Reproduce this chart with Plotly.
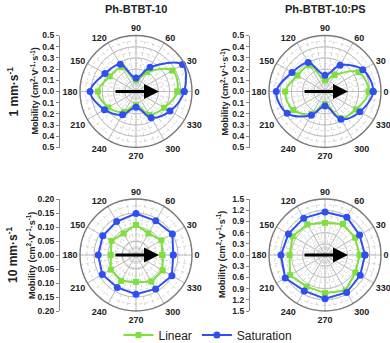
import plotly.graph_objects as go

# angle of the measurement (deg)
angles = [0, 30, 60, 90, 120, 150, 180, 210, 240, 270, 300, 330]

# mobility values (cm2 V-1 s-1)
lin_1mm_pure = [0.37, 0.375, 0.20, 0.10, 0.25, 0.27, 0.34, 0.285, 0.21, 0.12, 0.24, 0.29]
sat_1mm_pure = [0.43, 0.48, 0.25, 0.12, 0.28, 0.32, 0.41, 0.325, 0.24, 0.14, 0.27, 0.35]
lin_1mm_ps = [0.39, 0.345, 0.17, 0.10, 0.27, 0.285, 0.355, 0.33, 0.23, 0.11, 0.275, 0.32]
sat_1mm_ps = [0.43, 0.39, 0.27, 0.145, 0.30, 0.34, 0.435, 0.39, 0.245, 0.13, 0.285, 0.36]
lin_10mm_pure = [0.094, 0.105, 0.089, 0.108, 0.089, 0.101, 0.09, 0.104, 0.107, 0.096, 0.11, 0.11]
sat_10mm_pure = [0.133, 0.15, 0.141, 0.148, 0.138, 0.137, 0.135, 0.139, 0.134, 0.14, 0.14, 0.148]
lin_10mm_ps = [0.93, 0.93, 0.96, 0.86, 0.95, 1.0, 0.95, 1.08, 0.98, 1.02, 1.1, 0.94]
sat_10mm_ps = [1.07, 1.07, 1.17, 1.15, 1.14, 1.13, 1.18, 1.23, 1.11, 1.17, 1.16, 1.09]

col_titles = ["Ph-BTBT-10", "Ph-BTBT-10:PS"]
row_titles = ["1 mm·s<sup>-1</sup>", "10 mm·s<sup>-1</sup>"]
axis_title = "Mobility (cm<sup>2</sup>·V<sup>-1</sup>·s<sup>-1</sup>)"
axis_max = [0.5, 0.5, 0.2, 1.5]
axis_step = [0.1, 0.1, 0.05, 0.3]
axis_fmt = ["%.1f", "%.1f", "%.2f", "%.1f"]

W, H = 390, 343
R = 56
col_cx = [136, 325]
row_cy = [91.5, 255]
axis_x = [61, 251]
title_x = [[34, 224], [31, 221]]

GREEN = "#7ee03c"
BLUE = "#2f4ff2"
FONT = "Liberation Sans"
TXT = "#222222"

panels = [
    (lin_1mm_pure, sat_1mm_pure),
    (lin_1mm_ps, sat_1mm_ps),
    (lin_10mm_pure, sat_10mm_pure),
    (lin_10mm_ps, sat_10mm_ps),
]

fig = go.Figure()
layout = {}
annotations = []

for i, (lin, sat) in enumerate(panels):
    row, col = divmod(i, 2)
    cx, cy = col_cx[col], row_cy[row]
    xd = [(cx - R) / W, (cx + R) / W]
    yd = [1 - (cy + R) / H, 1 - (cy - R) / H]
    top = axis_max[i]
    step = axis_step[i]
    shape = "spline" if row == 0 else "linear"

    minor_id = "polar%d" % (i + 1)
    main_id = "polar%d" % (i + 5)

    # minor dashed grid layer
    layout[minor_id] = dict(
        domain=dict(x=xd, y=yd), bgcolor="white",
        radialaxis=dict(range=[0, top], dtick=step / 2, showticklabels=False, ticks="",
                        showline=False, gridcolor="#d6d6d6", griddash="dot", gridwidth=0.7),
        angularaxis=dict(dtick=10, showticklabels=False, ticks="", showline=False,
                         gridcolor="#d6d6d6", griddash="dot", gridwidth=0.7),
    )
    # main layer with the data
    layout[main_id] = dict(
        domain=dict(x=xd, y=yd), bgcolor="rgba(0,0,0,0)",
        radialaxis=dict(range=[0, top], dtick=step, showticklabels=False, ticks="",
                        showline=False, gridcolor="#bdbdbd", gridwidth=0.8),
        angularaxis=dict(tickmode="array", tickvals=angles, ticktext=[str(a) for a in angles],
                         ticks="", showline=True, linecolor="#7a7a7a", linewidth=1.4,
                         gridcolor="#bdbdbd", gridwidth=0.8,
                         tickfont=dict(family=FONT, size=9, color=TXT, weight="bold")),
    )
    fig.add_trace(go.Scatterpolar(r=[None], theta=[None], subplot=minor_id,
                                  showlegend=False, hoverinfo="skip"))

    fig.add_trace(go.Scatterpolar(
        r=lin + lin[:1], theta=angles + angles[:1], subplot=main_id, name="Linear",
        mode="lines+markers", line=dict(color=GREEN, width=2, shape=shape),
        marker=dict(symbol="square", size=6, color=GREEN), showlegend=(i == 0)))
    fig.add_trace(go.Scatterpolar(
        r=sat + sat[:1], theta=angles + angles[:1], subplot=main_id, name="Saturation",
        mode="lines+markers", line=dict(color=BLUE, width=2, shape=shape),
        marker=dict(symbol="circle", size=7, color=BLUE), showlegend=(i == 0)))

    # linear mobility scale at the left of each polar plot
    n = int(round(top / step))
    vals = [k * step for k in range(-n, n + 1)]
    ax_suffix = "" if i == 0 else str(i + 1)
    layout["xaxis" + ax_suffix] = dict(domain=[axis_x[col] / W - 0.003, axis_x[col] / W],
                                       visible=False, anchor="y" + ax_suffix)
    layout["yaxis" + ax_suffix] = dict(
        domain=yd, anchor="x" + ax_suffix, range=[-top, top], automargin=False,
        tickvals=vals, ticktext=[axis_fmt[i] % abs(v) for v in vals],
        showline=True, linecolor="#888", linewidth=1, ticks="outside", ticklen=3,
        tickcolor="#888", showgrid=False, zeroline=False,
        tickfont=dict(family=FONT, size=8.5, color=TXT, weight="bold"),
    )
    fig.add_trace(go.Scatter(x=[None], y=[None], xaxis="x" + ax_suffix, yaxis="y" + ax_suffix,
                             showlegend=False, hoverinfo="skip"))

    # axis title
    annotations.append(dict(x=title_x[row][col] / W, y=1 - cy / H, xref="paper", yref="paper",
                            xanchor="center", yanchor="middle",
                            text="<b>%s</b>" % axis_title, showarrow=False, textangle=-90,
                            font=dict(family=FONT, size=9, color=TXT)))

    # sample direction arrow
    annotations.append(dict(
        x=(cx + 23) / W, y=1 - cy / H, xref="paper", yref="paper",
        ax=-45, ay=0, text="", showarrow=True,
        arrowhead=2, arrowsize=1, arrowwidth=3, arrowcolor="black"))

for c, t in enumerate(col_titles):
    annotations.append(dict(x=col_cx[c] / W, y=1 - 9 / H, xref="paper", yref="paper",
                            xanchor="center", yanchor="middle",
                            text="<b>%s</b>" % t, showarrow=False,
                            font=dict(family=FONT, size=11, color=TXT)))
for r, t in enumerate(row_titles):
    annotations.append(dict(x=12 / W, y=1 - row_cy[r] / H, xref="paper", yref="paper",
                            xanchor="center", yanchor="middle",
                            text="<b>%s</b>" % t, showarrow=False, textangle=-90,
                            font=dict(family=FONT, size=12, color=TXT)))

fig.update_layout(
    width=W, height=H, margin=dict(l=0, r=0, t=0, b=0, autoexpand=False),
    paper_bgcolor="white", plot_bgcolor="white",
    annotations=annotations,
    legend=dict(orientation="h", x=208 / W, xanchor="center", y=1 - 335 / H, yanchor="middle",
                font=dict(family=FONT, size=12, color=TXT), itemwidth=30,
                bgcolor="rgba(0,0,0,0)"),
    **layout,
)

# the page body has a default 8px margin; drop it so the figure fills the window
fig.write_html("out.html", config={"displayModeBar": False},
               post_script="document.body.style.margin='0';")
